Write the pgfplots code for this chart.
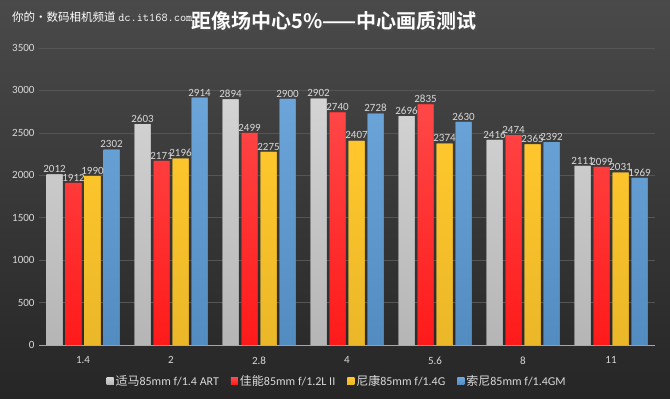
\documentclass[border=0pt]{standalone}
\usepackage{pgfplots}
\pgfplotsset{compat=1.18}
\usepackage{fontspec}
\setmainfont{Carlito}
\newfontfamily\cjk{Noto Sans CJK SC}
\newfontfamily\cjkb{Noto Sans CJK SC Bold}
\definecolor{bgtop}{HTML}{4A4A4A}
\definecolor{bgbot}{HTML}{262626}
\definecolor{gridc}{HTML}{555555}
\definecolor{txt}{HTML}{D9D9D9}
\definecolor{cgray}{HTML}{C9C9C9}
\definecolor{cred}{HTML}{FF1A1A}
\definecolor{cyel}{HTML}{FFC72C}
\definecolor{cblue}{HTML}{5B9BD5}
\begin{document}
\begin{tikzpicture}[x=1bp,y=1bp]
\shade[top color=bgtop,bottom color=bgbot] (0,0) rectangle (670,398);
\useasboundingbox (0,0) rectangle (670,398);
\node[anchor=west,text=white,font=\cjk\fontsize{11.5bp}{13bp}\selectfont,inner sep=0] at (12,381) {你的{\textbullet}数码相机频道 {\ttfamily\fontsize{12bp}{13bp}\selectfont dc.it168.com}};
\node[text=black!70,font=\cjkb\fontsize{20bp}{24bp}\selectfont,inner sep=0] at (335.8,375.2) {距像场中心5\%——中心画质测试};
\node[text=white,font=\cjkb\fontsize{20bp}{24bp}\selectfont,inner sep=0] at (334,377) {距像场中心5\%——中心画质测试};
\begin{axis}[
  at={(39bp,53bp)}, anchor=south west,
  scale only axis, width=616bp, height=297bp,
  ybar=3bp, bar width=16bp,
  xmin=-0.5, xmax=6.5, ymin=0, ymax=3500,
  xtick=data, xticklabels={1.4,2,2.8,4,5.6,8,11},
  ytick={0,500,...,3500},
  ymajorgrids, grid style={draw=gridc, line width=0.6bp},
  axis line style={draw=none},
  tick style={draw=none},
  ticklabel style={text=txt, font=\fontsize{11bp}{13bp}\selectfont},
  /pgf/number format/assume math mode=true,
  /pgf/number format/1000 sep={},
  yticklabel style={xshift=-1bp},
  xticklabel style={yshift=-4bp},
  nodes near coords,
  every node near coord/.append style={text=txt, font=\fontsize{11bp}{13bp}\selectfont, inner sep=1.5bp, /pgf/number format/assume math mode=true, /pgf/number format/1000 sep={}},
  legend columns=4,
  legend style={at={(0.484,-0.122)}, anchor=center, draw=none, fill=none, text=txt,
    font=\fontsize{12bp}{14bp}\selectfont, /tikz/every even column/.append style={column sep=10bp},
    /tikz/every odd column/.append style={column sep=0bp}},
  legend image code/.code={\fill[#1] (0bp,-3.5bp) rectangle (7bp,3.5bp);},
]
\draw[gray!70, line width=0.8bp] (rel axis cs:0,0) -- (rel axis cs:1,0);
\addplot[draw=none, fill=cgray, top color=cgray!80!white, bottom color=cgray!90!black] coordinates {(0,2012) (1,2603) (2,2894) (3,2902) (4,2696) (5,2416) (6,2111)};
\addplot[draw=none, fill=cred, top color=cred!80!white, bottom color=cred] coordinates {(0,1912) (1,2171) (2,2499) (3,2740) (4,2835) (5,2474) (6,2099)};
\addplot[draw=none, fill=cyel, top color=cyel, bottom color=cyel!92!black] coordinates {(0,1990) (1,2196) (2,2275) (3,2407) (4,2374) (5,2365) (6,2031)};
\addplot[draw=none, fill=cblue, top color=cblue!90!white, bottom color=cblue!90!black] coordinates {(0,2302) (1,2914) (2,2900) (3,2728) (4,2630) (5,2392) (6,1969)};
\legend{{\cjk 适马}85mm f/1.4 ART,{\cjk 佳能}85mm f/1.2L II,{\cjk 尼康}85mm f/1.4G,{\cjk 索尼}85mm f/1.4GM}
\end{axis}
\end{tikzpicture}
\end{document}
